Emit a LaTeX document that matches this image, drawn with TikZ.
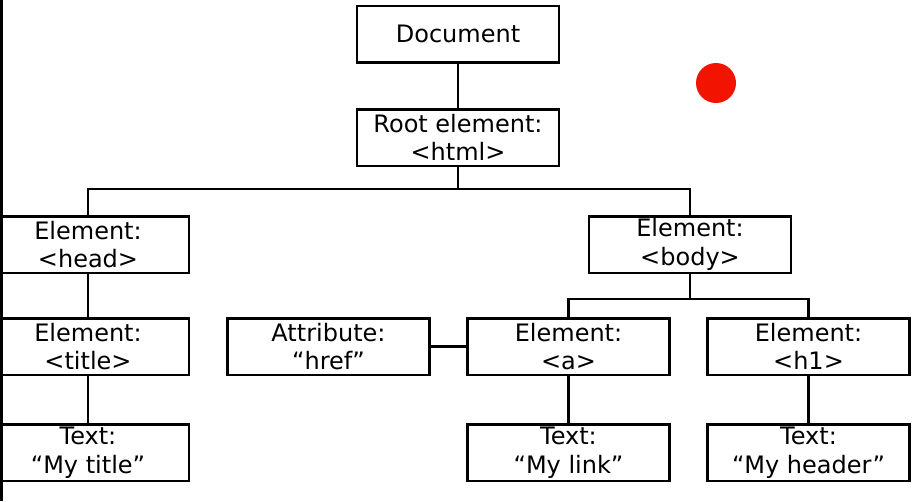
\documentclass[tikz,border=0pt]{standalone}
\usepackage{fontspec}
\setmainfont{DejaVu Sans}
\definecolor{dotred}{RGB}{242,20,0}
\begin{document}
\begin{tikzpicture}[x=1pt,y=-1pt,
  box/.style={draw=black, line width=2.5pt, minimum width=202pt, minimum height=56.5pt,
    align=center, inner sep=0pt, font=\fontsize{24}{28.5}\selectfont},
  link/.style={draw=black, line width=2.5pt}]
\clip (0,0) rectangle (920,501);
\fill[white] (0,0) rectangle (920,501);
% nodes
\node[box] (doc)   at (458,34)    {Document};
\node[box] (root)  at (458,137.5) {Root element:\\<html>};
\node[box] (head)  at (88,244.5)  {Element:\\<head>};
\node[box] (body)  at (690,244.5) {Element:\\<body>};
\node[box] (title) at (88,346.5)  {Element:\\<title>};
\node[box] (href)  at (328.5,346.5) {Attribute:\\“href”};
\node[box] (a)     at (568.5,346.5) {Element:\\<a>};
\node[box] (h1)    at (808.5,346.5) {Element:\\<h1>};
\node[box] (ttitle) at (88,452.5)  {Text:\\“My title”};
\node[box] (tlink)  at (568.5,452.5) {Text:\\“My link”};
\node[box] (thead)  at (808.5,452.5) {Text:\\“My header”};
% bus points
\coordinate (bus1) at (458,189);
\coordinate (bus2) at (690,299);
% connectors
\draw[link] (doc.south) -- (root.north);
\draw[link] (root.south) -- (bus1) -| (head.north);
\draw[link] (bus1) -| (body.north);
\draw[link] (head.south) -- (title.north);
\draw[link] (title.south) -- (ttitle.north);
\draw[link] (body.south) -- (bus2) -| (a.north);
\draw[link] (bus2) -| (h1.north);
\draw[link] (href.east) -- (a.west);
\draw[link] (a.south) -- (tlink.north);
\draw[link] (h1.south) -- (thead.north);
% screen edge and pointer highlight
\fill[black] (0,0) rectangle (3,501);
\node[circle, fill=dotred, minimum size=40pt, inner sep=0pt] (pointer) at (716,83) {};
\end{tikzpicture}
\end{document}
